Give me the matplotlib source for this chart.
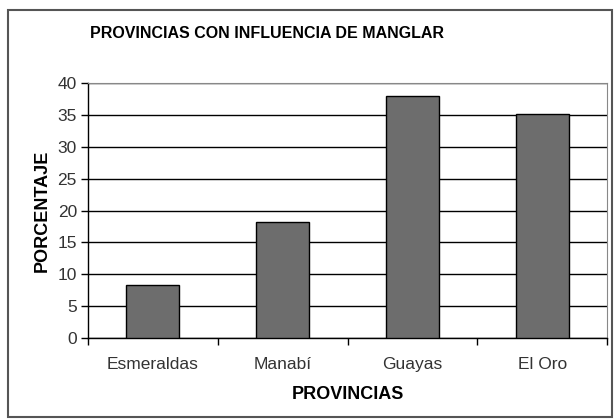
import numpy as np
import matplotlib.pyplot as plt
from matplotlib.patches import Rectangle

provincias = ["Esmeraldas", "Manabí", "Guayas", "El Oro"]
porcentaje = [8.3, 18.2, 38.0, 35.2]
yticks = [0, 5, 10, 15, 20, 25, 30, 35, 40]

plt.rcParams['font.family'] = ['Liberation Sans', 'DejaVu Sans']

fig = plt.figure(figsize=(6.14, 4.2), dpi=100)
ax = fig.add_axes([88/614, 1-338/420, (607-88)/614, (338-83)/420])

x = np.arange(len(provincias))
ax.bar(x, porcentaje, width=0.41, color='#6d6d6d', edgecolor='black', linewidth=1, zorder=3)

ax.set_xlim(-0.5, len(provincias) - 0.5)
ax.set_ylim(0, 40)
ax.set_yticks(yticks)
ax.set_yticklabels([str(v) for v in yticks], fontsize=12.5, color='#333333')
ax.yaxis.grid(True, color='black', linewidth=1, zorder=1)

# category labels centered, tick marks between categories
ax.set_xticks(x)
ax.set_xticklabels(provincias, fontsize=12.5, color='#333333')
ax.tick_params(axis='x', length=0, pad=14)
ax.set_xticks(np.arange(-0.5, len(provincias)), minor=True)
ax.tick_params(axis='x', which='minor', length=5, width=1, color='black')
ax.tick_params(axis='y', length=5, width=1, color='black', pad=3)

for s in ['top', 'right']:
    ax.spines[s].set_color('#888888')
    ax.spines[s].set_linewidth(0.8)
for s in ['left', 'bottom']:
    ax.spines[s].set_color('black')
    ax.spines[s].set_linewidth(1)

ax.set_ylabel("PORCENTAJE", fontsize=13, fontweight='bold', labelpad=5)
ax.set_xlabel("PROVINCIAS", fontsize=13, fontweight='bold', labelpad=10)
fig.text(267/614, 1-33/420, "PROVINCIAS CON INFLUENCIA DE MANGLAR",
         fontsize=11.5, fontweight='bold', ha='center', va='center')

fig.patches.append(Rectangle((8/614, 1-417/420), (612-8)/614, (417-10)/420,
                             transform=fig.transFigure, fill=False,
                             edgecolor='#555555', linewidth=1.5))

fig.savefig("out.png", dpi=100)
